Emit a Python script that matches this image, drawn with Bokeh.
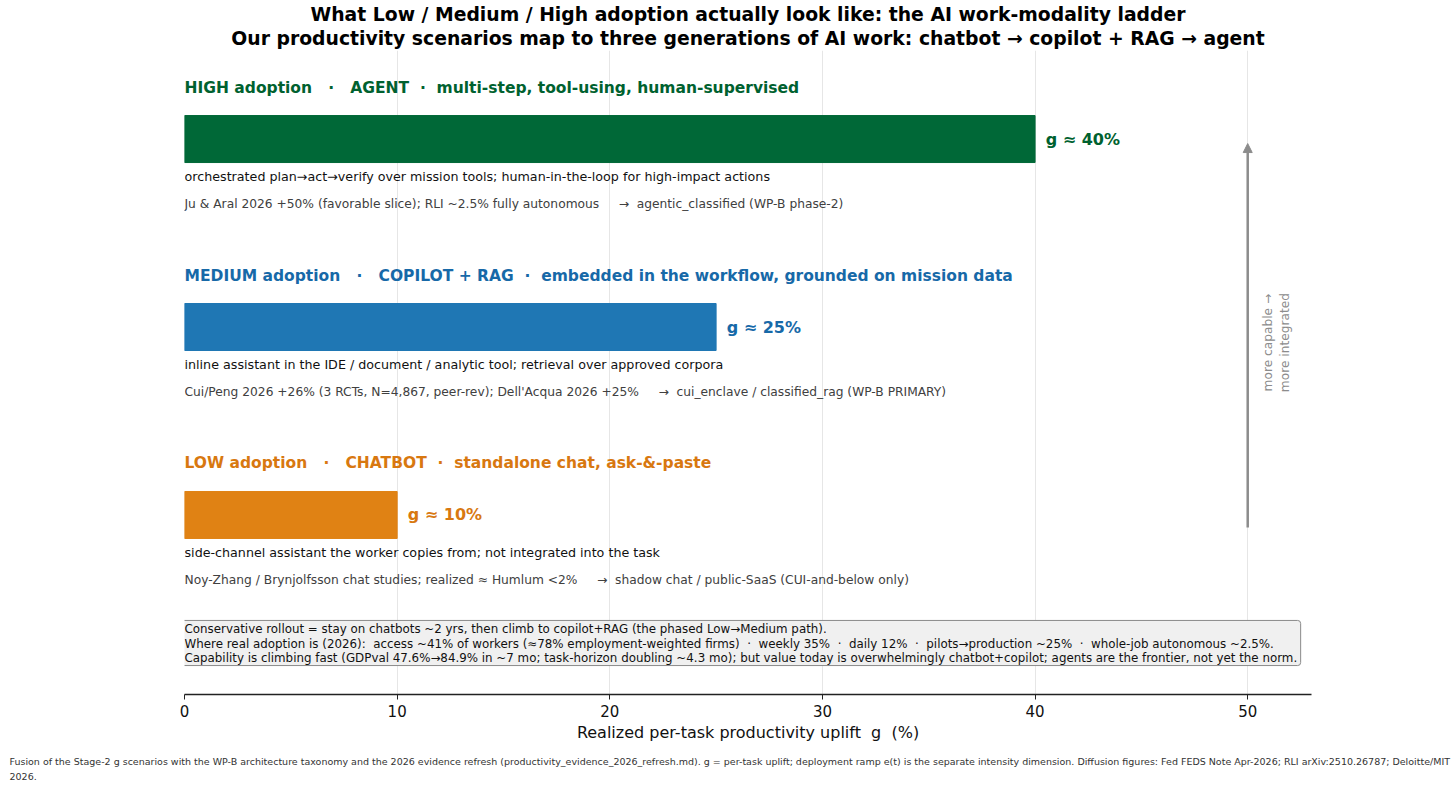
import re
from bokeh.plotting import figure
from bokeh.models import (ColumnDataSource, Title, Arrow, NormalHead,
                          FixedTicker, Range1d, BoxAnnotation)
from bokeh.core.properties import value
from bokeh.embed import file_html
from bokeh.resources import INLINE

# --- data -------------------------------------------------------------------
tiers = ["LOW", "MEDIUM", "HIGH"]
uplift_pct = [10, 25, 40]
bar_colors = ["#e08214", "#1f77b4", "#006837"]
text_colors = ["#d87810", "#1769a8", "#00612f"]
headers = [
    "LOW adoption   \u00b7   CHATBOT  \u00b7  standalone chat, ask-&-paste",
    "MEDIUM adoption   \u00b7   COPILOT + RAG  \u00b7  embedded in the workflow, grounded on mission data",
    "HIGH adoption   \u00b7   AGENT  \u00b7  multi-step, tool-using, human-supervised",
]
descriptions = [
    "side-channel assistant the worker copies from; not integrated into the task",
    "inline assistant in the IDE / document / analytic tool; retrieval over approved corpora",
    "orchestrated plan\u2192act\u2192verify over mission tools; human-in-the-loop for high-impact actions",
]
evidence = [
    "Noy-Zhang / Brynjolfsson chat studies; realized \u2248 Humlum <2%     \u2192  shadow chat / public-SaaS (CUI-and-below only)",
    "Cui/Peng 2026 +26% (3 RCTs, N=4,867, peer-rev); Dell'Acqua 2026 +25%     \u2192  cui_enclave / classified_rag (WP-B PRIMARY)",
    "Ju & Aral 2026 +50% (favorable slice); RLI ~2.5% fully autonomous     \u2192  agentic_classified (WP-B phase-2)",
]
x_ticks = [0, 10, 20, 30, 40, 50]

note_lines = [
    "Conservative rollout = stay on chatbots ~2 yrs, then climb to copilot+RAG (the phased Low\u2192Medium path).",
    "Where real adoption is (2026):  access ~41% of workers (\u224878% employment-weighted firms)  \u00b7  weekly 35%  \u00b7  daily 12%  \u00b7  pilots\u2192production ~25%  \u00b7  whole-job autonomous ~2.5%.",
    "Capability is climbing fast (GDPval 47.6%\u219284.9% in ~7 mo; task-horizon doubling ~4.3 mo); but value today is overwhelmingly chatbot+copilot; agents are the frontier, not yet the norm.",
]
title_lines = [
    "What Low / Medium / High adoption actually look like: the AI work-modality ladder",
    "Our productivity scenarios map to three generations of AI work: chatbot \u2192 copilot + RAG \u2192 agent",
]
x_label = "Realized per-task productivity uplift  g  (%)"
footer_text = ("Fusion of the Stage-2 g scenarios with the WP-B architecture taxonomy and the 2026 evidence refresh "
               "(productivity_evidence_2026_refresh.md). g = per-task uplift; deployment ramp e(t) is the separate "
               "intensity dimension. Diffusion figures: Fed FEDS Note Apr-2026; RLI arXiv:2510.26787; Deloitte/MIT\n2026.")

FONT = "DejaVu Sans"


def keep_gaps(s):
    """SVG collapses runs of spaces; keep wide gaps with no-break spaces."""
    return re.sub(r" {2,}", lambda m: "\u00a0" * len(m.group()), s)


ypos = [0, 1, 2]
value_labels = [f"g \u2248 {v}%" for v in uplift_pct]

src = ColumnDataSource(dict(
    y=ypos, g=uplift_pct, color=bar_colors, tcolor=text_colors,
    header=[keep_gaps(h) for h in headers], desc=descriptions,
    evid=[keep_gaps(e) for e in evidence], vlabel=value_labels,
    x0=[0] * 3,
    y_head=[y + 0.274 for y in ypos],
    y_desc=[y - 0.20 for y in ypos],
    y_evid=[y - 0.348 for y in ypos],
    x_val=[g + 0.5 for g in uplift_pct],
))

p = figure(width=1456, height=792, output_backend="svg", toolbar_location=None,
           x_range=Range1d(0, 53), y_range=Range1d(-0.955, 2.471),
           min_border_left=184, min_border_right=145, min_border_top=50,
           min_border_bottom=98)

# two-line title: the added Title sits next to the frame
p.title.text = title_lines[0]
p.title.align = "center"
p.title.text_font = FONT
p.title.text_font_size = "18.8px"
p.title.text_font_style = "bold"
p.title.text_color = "#000000"
p.title.standoff = 0
p.title.text_line_height = 1.3
p.add_layout(Title(text=title_lines[1], align="center", text_font=FONT,
                   text_font_size="18.8px", text_font_style="bold",
                   text_color="#000000", standoff=3, text_line_height=0.6), "above")

# bars
p.hbar(y="y", left=0, right="g", height=0.25, color="color", source=src)

# text rows around each bar
p.text(x="x0", y="y_head", text="header", text_color="tcolor", source=src,
       text_font=value(FONT), text_font_size="15.5px", text_font_style="bold",
       text_baseline="middle", text_align="left")
p.text(x="x_val", y="y", text="vlabel", text_color="tcolor", source=src,
       text_font=value(FONT), text_font_size="16px", text_font_style="bold",
       text_baseline="middle", text_align="left")
p.text(x="x0", y="y_desc", text="desc", text_color="#111111", source=src,
       text_font=value(FONT), text_font_size="12.7px",
       text_baseline="middle", text_align="left")
p.text(x="x0", y="y_evid", text="evid", text_color="#404040", source=src,
       text_font=value(FONT), text_font_size="12.25px",
       text_baseline="middle", text_align="left")

# capability arrow on the right
p.add_layout(Arrow(end=NormalHead(size=9, fill_color="#8c8c8c", line_color="#8c8c8c"),
                   x_start=50, y_start=-0.067, x_end=50, y_end=1.976,
                   line_color="#8c8c8c", line_width=2.5))
p.text(x=[51.37], y=[0.917], text=["more capable \u2192\nmore integrated"],
       angle=1.5707963, text_align="center", text_baseline="middle",
       text_color="#8c8c8c", text_font=value(FONT), text_font_size="12.2px")

# note box with three text lines
p.add_layout(BoxAnnotation(left=-0.141, right=52.49, top=-0.561, bottom=-0.801,
                           fill_color="#f0f0f0", fill_alpha=1,
                           line_color="#8a8a8a", line_alpha=1, line_width=1,
                           border_radius=3, level="underlay"))
note_step = 14.5 / 188
note_src = ColumnDataSource(dict(
    x=[0.0] * len(note_lines),
    y=[-0.607 - i * note_step for i in range(len(note_lines))],
    t=[keep_gaps(s) for s in note_lines],
))
p.text(x="x", y="y", text="t", source=note_src, text_font=value(FONT),
       text_font_size="11.87px", text_color="#111111",
       text_align="left", text_baseline="middle")

# axes / grid
p.yaxis.visible = False
p.ygrid.grid_line_color = None
p.xgrid.grid_line_color = "#e6e6e6"
p.xaxis.ticker = FixedTicker(ticks=x_ticks)
p.xaxis.minor_tick_line_color = None
p.xaxis.major_tick_out = 5
p.xaxis.major_tick_in = 0
p.xaxis.axis_line_width = 1.3
p.xaxis.axis_line_color = "#222222"
p.xaxis.major_tick_line_color = "#222222"
p.xaxis.major_label_text_font = FONT
p.xaxis.major_label_text_font_size = "15px"
p.xaxis.major_label_text_color = "#111111"
p.xaxis.major_label_standoff = 5
p.xaxis.axis_label = keep_gaps(x_label)
p.xaxis.axis_label_text_font = FONT
p.xaxis.axis_label_text_font_size = "16px"
p.xaxis.axis_label_text_font_style = "normal"
p.xaxis.axis_label_text_color = "#111111"
p.xaxis.axis_label_standoff = 3
p.outline_line_color = None

p.add_layout(Title(text=footer_text, align="left", offset=-175,
                   text_font=FONT, text_font_size="9.5px", text_font_style="normal",
                   text_color="#333333", text_line_height=1.35, standoff=19), "below")

open("out.html", "w").write(file_html(p, INLINE))
